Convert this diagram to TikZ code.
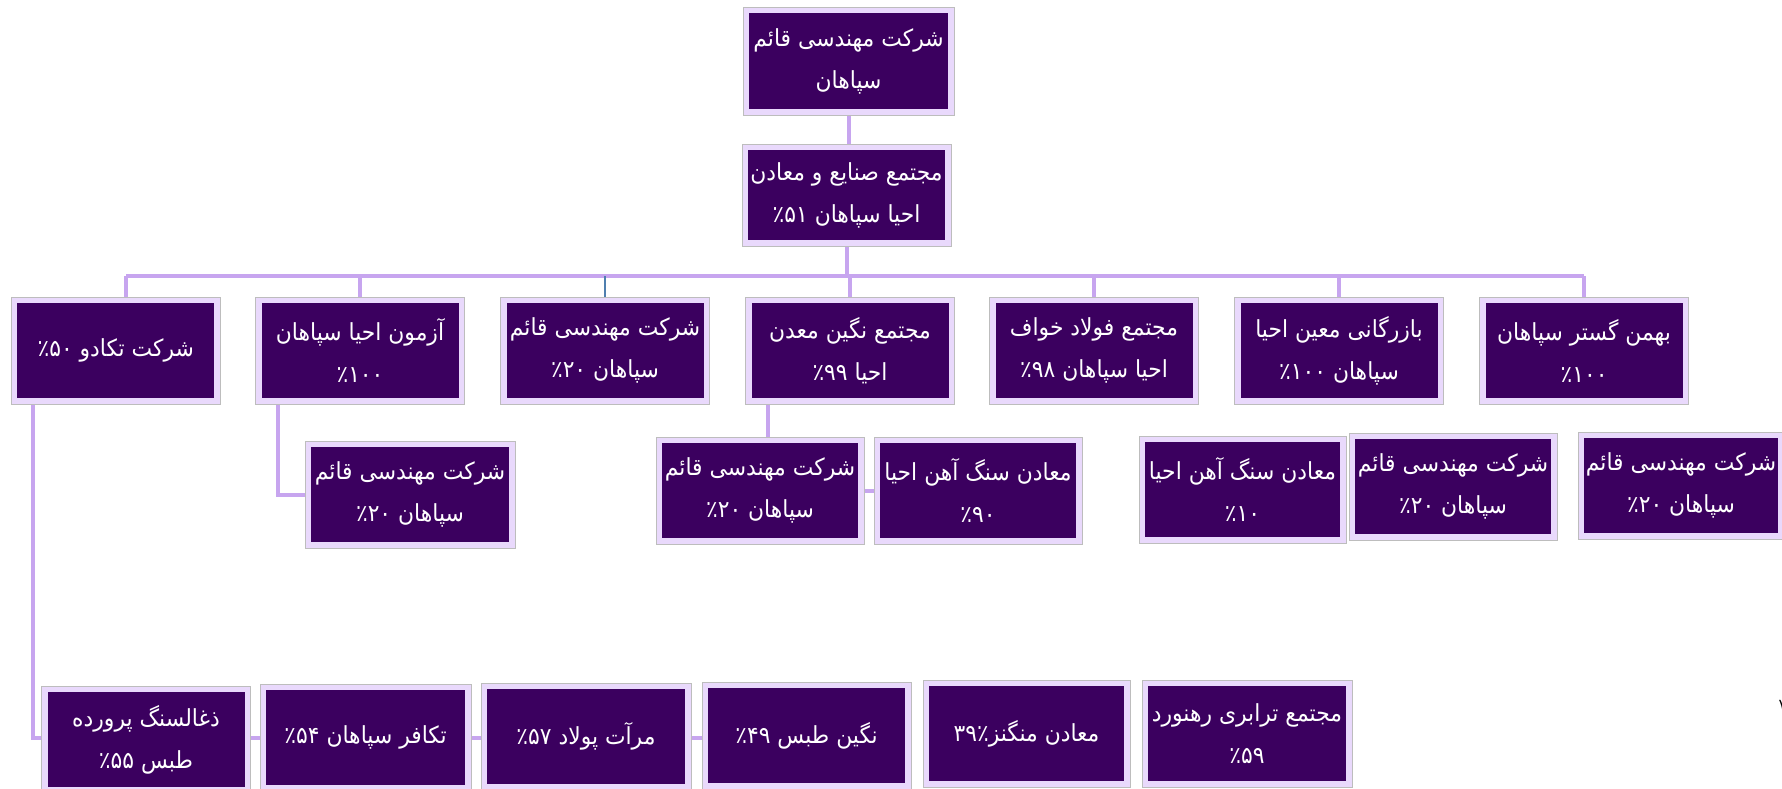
\documentclass[tikz,border=0pt]{standalone}
\usepackage{fontspec}
\newfontfamily\arabicfont[Script=Arabic]{DejaVu Sans}
\newfontfamily\arabicboxfont[Script=Arabic,FakeStretch=0.93]{DejaVu Sans}
\TeXXeTstate=1
\usetikzlibrary{calc}
\definecolor{dpurple}{HTML}{3B005F}
\definecolor{lav}{HTML}{E9D9FC}
\definecolor{conn}{HTML}{C7A5EF}
\definecolor{edgegray}{HTML}{BDBDBD}
\definecolor{steel}{HTML}{4F7FAF}
\definecolor{blueshade}{HTML}{7F9BD6}
\newcommand\myrtl[1]{\beginR #1\endR}
\pgfdeclarelayer{bg}
\pgfsetlayers{bg,main}
\tikzset{
  outerbox/.style={draw=edgegray, line width=0.8pt, fill=lav, inner sep=0pt},
  innerbox/.style={fill=dpurple, inner sep=0pt, text=white, align=center,
     font=\arabicboxfont\fontsize{23.5}{42}\selectfont},
  link/.style={draw=conn, line width=4pt},
  steellink/.style={draw=steel, line width=2.2pt},
  shadelink/.style={draw=blueshade, line width=4pt},
}
\newcommand\orgbox[6]{%
  \node[outerbox, minimum width=#4pt, minimum height=#5pt] (#1) at (#2,#3) {};
  \node[innerbox, minimum width=#4pt-12pt, minimum height=#5pt-12pt] (#1-in) at (#1.center) {#6};
}
\begin{document}
\begin{tikzpicture}[x=1pt,y=-1pt]
\useasboundingbox (0,0) rectangle (1782,788);
% top levels
\orgbox{top}{848.5}{61}{211}{108}{\myrtl{شرکت مهندسی قائم}\\\myrtl{سپاهان}}
\orgbox{second}{846.5}{195}{209}{102}{\myrtl{مجتمع صنایع و معادن}\\\myrtl{احیا سپاهان ٪۵۱}}
% row 2
\orgbox{r1}{115.75}{350.5}{209}{107}{\myrtl{شرکت تکادو ٪۵۰}}
\orgbox{r2}{360}{350.5}{209}{107}{\myrtl{آزمون احیا سپاهان}\\\myrtl{٪۱۰۰}}
\orgbox{r3}{605}{350.5}{209}{107}{\myrtl{شرکت مهندسی قائم}\\\myrtl{سپاهان ٪۲۰}}
\orgbox{r4}{850}{350.5}{209}{107}{\myrtl{مجتمع نگین معدن}\\\myrtl{احیا ٪۹۹}}
\orgbox{r5}{1094}{350.5}{209}{107}{\myrtl{مجتمع فولاد خواف}\\\myrtl{احیا سپاهان ٪۹۸}}
\orgbox{r6}{1339}{350.5}{209}{107}{\myrtl{بازرگانی معین احیا}\\\myrtl{سپاهان ٪۱۰۰}}
\orgbox{r7}{1584}{350.5}{209}{107}{\myrtl{بهمن گستر سپاهان}\\\myrtl{٪۱۰۰}}
% row 3
\orgbox{sa}{410}{494.5}{210}{107}{\myrtl{شرکت مهندسی قائم}\\\myrtl{سپاهان ٪۲۰}}
\orgbox{sb}{760}{490.5}{208}{107}{\myrtl{شرکت مهندسی قائم}\\\myrtl{سپاهان ٪۲۰}}
\orgbox{sc}{978}{490.5}{208}{107}{\myrtl{معادن سنگ آهن احیا}\\\myrtl{٪۹۰}}
\orgbox{sd}{1242.5}{489.5}{207}{107}{\myrtl{معادن سنگ آهن احیا}\\\myrtl{٪۱۰}}
\orgbox{se}{1453}{486.5}{208}{107}{\myrtl{شرکت مهندسی قائم}\\\myrtl{سپاهان ٪۲۰}}
\orgbox{sf}{1681}{485.5}{206}{107}{\myrtl{شرکت مهندسی قائم}\\\myrtl{سپاهان ٪۲۰}}
% bottom row
\orgbox{bg1}{146}{739.5}{209}{107}{\myrtl{ذغالسنگ پرورده}\\\myrtl{طبس ٪۵۵}}
\orgbox{bh}{365.5}{737.5}{211}{107}{\myrtl{تکافر سپاهان ٪۵۴}}
\orgbox{bi}{586}{736.5}{210}{107}{\myrtl{مرآت پولاد ٪۵۷}}
\orgbox{bj}{806.5}{735.5}{209}{107}{\myrtl{نگین طبس ٪۴۹}}
\orgbox{bk}{1026.5}{733.5}{207}{107}{\myrtl{معادن منگنز٪۳۹}}
\orgbox{bl}{1247}{733.5}{210}{107}{\myrtl{مجتمع ترابری رهنورد}\\\myrtl{٪۵۹}}
% page mark
\node[anchor=west, inner sep=0pt, font=\arabicfont\fontsize{16}{16}\selectfont, text=black] (pg) at (1778.5,705) {۷};
% connectors
\coordinate (busL) at (126,276);
\coordinate (busR) at (1584,276);
\coordinate (c1) at (33,738);
\begin{pgfonlayer}{bg}
  \draw[link] (top.south) -- (top.south |- second.north);
  \draw[link] (second.south) -- (second.south |- busL);
  \draw[link] (busL) -- (busR);
  \draw[link] (busL) -- (busL |- r1.north);
  \draw[link] (r2.north |- busL) -- (r2.north);
  \draw[steellink] (r3.north |- busL) -- (r3.north);
  \draw[link] (r4.north |- busL) -- (r4.north);
  \draw[link] (r5.north |- busL) -- (r5.north);
  \draw[link] (r6.north |- busL) -- (r6.north);
  \draw[link] (busR) -- (r7.north);
  \draw[shadelink, xshift=-1.5pt, yshift=-1.5pt] (r1.south -| c1) -- (c1) -- (c1 -| bj.west);
  \draw[link] (r1.south -| c1) -- (c1) -- (c1 -| bj.west);
  \draw[link] ([xshift=-82pt]r2.south) |- (sa.west);
  \draw[link] ([xshift=-82pt]r4.south) -- ([xshift=-82pt]r4.south |- sb.north);
  \draw[link] (sb.east) -- (sc.west);
\end{pgfonlayer}
\end{tikzpicture}
\end{document}
